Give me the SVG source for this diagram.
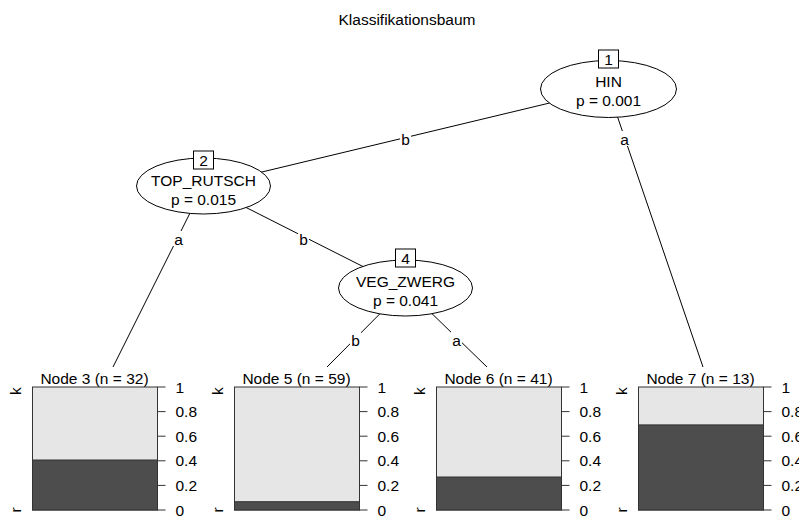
<svg xmlns="http://www.w3.org/2000/svg" width="799" height="516" viewBox="0 0 799 516">
<style>
text{font-family:"Liberation Sans",Arial,sans-serif;font-size:15.5px;fill:#000}
.c{text-anchor:middle}
.edge{stroke:#000;stroke-width:1;fill:none}
.ell{fill:#fff;stroke:#000;stroke-width:1}
.idbox{fill:#fff;stroke:#000;stroke-width:1}
.lbg{fill:#fff;stroke:none}
.light{fill:#e6e6e6;stroke:#333;stroke-width:1}
.dark{fill:#4d4d4d;stroke:#333;stroke-width:1}
.ax{stroke:#333;stroke-width:1;fill:none}
</style>
<defs>
<g id="axis">
<path class="ax" d="M0,387V510M0,387h8M0,411.6h8M0,436.2h8M0,460.8h8M0,485.4h8M0,510h8"/>
<text x="18" y="392.5">1</text>
<text x="18" y="417.1">0.8</text>
<text x="18" y="441.7">0.6</text>
<text x="18" y="466.3">0.4</text>
<text x="18" y="490.9">0.2</text>
<text x="18" y="515.5">0</text>
</g>
<g id="ylab">
<text class="c" transform="translate(0,391) rotate(-90)">k</text>
<text class="c" transform="translate(0,510) rotate(-90)">r</text>
</g>
</defs>
<rect width="799" height="516" fill="#fff"/>
<text class="c" x="407" y="25">Klassifikationsbaum</text>
<g id="connectors">
<line class="edge" x1="608" y1="89" x2="203.5" y2="186"/>
<line class="edge" x1="608" y1="89" x2="703" y2="367"/>
<line class="edge" x1="203.5" y1="186" x2="113" y2="367"/>
<line class="edge" x1="203.5" y1="186" x2="405.5" y2="288"/>
<line class="edge" x1="405.5" y1="288" x2="327" y2="367"/>
<line class="edge" x1="405.5" y1="288" x2="487" y2="367"/>
<rect class="lbg" x="400" y="131" width="11" height="15"/>
<text class="c" x="405.5" y="145">b</text>
<rect class="lbg" x="619" y="131" width="11" height="15"/>
<text class="c" x="624.5" y="145">a</text>
<rect class="lbg" x="173" y="231" width="11" height="15"/>
<text class="c" x="178.5" y="245">a</text>
<rect class="lbg" x="298" y="231" width="11" height="15"/>
<text class="c" x="303.5" y="245">b</text>
<rect class="lbg" x="350" y="332" width="11" height="15"/>
<text class="c" x="355.5" y="346">b</text>
<rect class="lbg" x="451" y="332" width="11" height="15"/>
<text class="c" x="456.5" y="346">a</text>
</g>
<g id="node1">
<ellipse class="ell" cx="608.5" cy="89" rx="68" ry="28.5"/>
<rect class="idbox" x="598.5" y="50" width="20" height="18"/>
<text class="c" x="608.5" y="65">1</text>
<text class="c" x="608.5" y="87">HIN</text>
<text class="c" x="608.5" y="106">p = 0.001</text>
</g>
<g id="node2">
<ellipse class="ell" cx="203.5" cy="186" rx="67" ry="28"/>
<rect class="idbox" x="193.5" y="151" width="20" height="18"/>
<text class="c" x="203.5" y="166">2</text>
<text class="c" x="203.5" y="186">TOP_RUTSCH</text>
<text class="c" x="203.5" y="205">p = 0.015</text>
</g>
<g id="node4">
<ellipse class="ell" cx="405.5" cy="288" rx="67" ry="28"/>
<rect class="idbox" x="395.5" y="249" width="20" height="18"/>
<text class="c" x="405.5" y="264">4</text>
<text class="c" x="405.5" y="287">VEG_ZWERG</text>
<text class="c" x="405.5" y="306">p = 0.041</text>
</g>
<g id="node3">
<text class="c" x="94.5" y="384">Node 3 (n = 32)</text>
<rect class="light" x="32.5" y="387" width="125" height="123"/>
<rect class="dark" x="32.5" y="460" width="125" height="50"/>
<use href="#axis" x="157.5"/>
<use href="#ylab" x="21"/>
</g>
<g id="node5">
<text class="c" x="296.5" y="384">Node 5 (n = 59)</text>
<rect class="light" x="234.5" y="387" width="125" height="123"/>
<rect class="dark" x="234.5" y="501.7" width="125" height="8.3"/>
<use href="#axis" x="359.5"/>
<use href="#ylab" x="223"/>
</g>
<g id="node6">
<text class="c" x="498.5" y="384">Node 6 (n = 41)</text>
<rect class="light" x="436.5" y="387" width="125" height="123"/>
<rect class="dark" x="436.5" y="477" width="125" height="33"/>
<use href="#axis" x="561.5"/>
<use href="#ylab" x="425"/>
</g>
<g id="node7">
<text class="c" x="700.5" y="384">Node 7 (n = 13)</text>
<rect class="light" x="638.5" y="387" width="125" height="123"/>
<rect class="dark" x="638.5" y="424.9" width="125" height="85.1"/>
<use href="#axis" x="763.5"/>
<use href="#ylab" x="627"/>
</g>
</svg>
